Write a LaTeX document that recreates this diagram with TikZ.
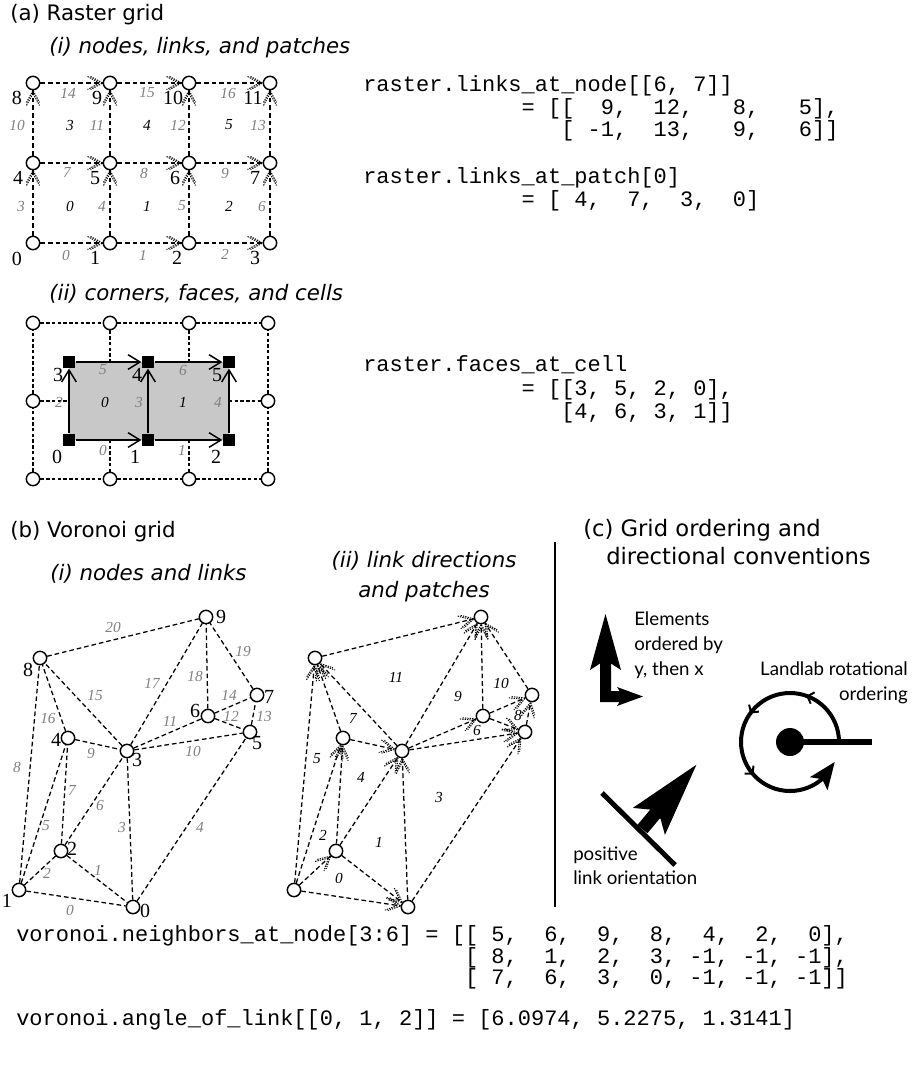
\documentclass[tikz,border=0pt]{standalone}
\usepackage{fontspec}
\setmainfont{DejaVu Sans}
\newfontfamily\seriffont{Liberation Serif}
\newfontfamily\codefont{Liberation Mono}
\newfontfamily\gillfont{Lato}
\usetikzlibrary{arrows.meta,decorations.markings,bending}
\definecolor{labgray}{RGB}{128,128,128}
\definecolor{cellgray}{RGB}{200,200,200}
\begin{document}
\begin{tikzpicture}[x=0.75pt, y=-0.75pt,
  ttl/.style={anchor=mid west, inner sep=0pt, font=\fontsize{16}{20}\selectfont},
  cttl/.style={anchor=mid west, inner sep=0pt, font=\fontsize{17}{20}\selectfont},
  ittl/.style={anchor=mid west, inner sep=0pt, font=\fontsize{16}{20}\selectfont\itshape},
  gnode/.style={circle, draw, fill=white, line width=1.1pt, minimum size=10pt, inner sep=0pt},
  nlab/.style={inner sep=0pt, font=\seriffont\fontsize{15}{15}\selectfont},
  llab/.style={inner sep=0pt, text=labgray, font=\seriffont\itshape\fontsize{11.5}{11.5}\selectfont},
  plab/.style={inner sep=0pt, font=\seriffont\itshape\fontsize{11.5}{11.5}\selectfont},
  vlink/.style={line width=0.95pt, dash pattern=on 3.5pt off 2.2pt},
  glink/.style={line width=0.8pt, dash pattern=on 2.6pt off 1.7pt},
  dhead/.style={postaction={decorate, decoration={markings, mark=at position 1 with {
      \draw[line width=0.75pt, dash pattern=on 1pt off 0.8pt] (-12,-6.5) -- (0,0) -- (-12,6.5);
      \draw[line width=0.75pt, dash pattern=on 1pt off 0.8pt] (-15,-6.5) -- (-3,0) -- (-15,6.5);}}}},
  cornersq/.style={rectangle, fill=black, minimum size=9.5pt, inner sep=0pt},
  face/.style={line width=1.1pt, -{Straight Barb[length=9pt, width=11pt]}},
  codeline/.style={anchor=mid west, inner sep=0pt, font=\codefont\fontsize{16.5}{20}\selectfont},
  gtext/.style={inner sep=0pt, font=\gillfont\fontsize{14}{18}\selectfont}
]
\fill[white] (0,0) rectangle (914,1071);
\useasboundingbox (0,0) rectangle (914,1071);

% ---------------- titles
\node[ttl] (ta) at (10,17) {(a) Raster grid};
\node[ittl] (ta1) at (49,50) {(i) nodes, links, and patches};
\node[ittl] (ta2) at (49,297) {(ii) corners, faces, and cells};
\node[ttl] (tb) at (10,534) {(b) Voronoi grid};
\node[ittl] (tb1) at (50,577) {(i) nodes and links};
\node[inner sep=0pt, align=center, font=\fontsize{16}{22.5}\selectfont\itshape] (tb2) at (424,577) {(ii) link directions\\and patches};
\node[cttl] (tc) at (583,533) {(c) Grid ordering and};
\node[cttl] (tc2) at (606,561) {directional conventions};

% ---------------- raster (i)
\foreach \n/\x/\y in {0/33/243,1/110/243,2/189/243,3/270/243,4/33/163,5/110/163,6/189/163,7/270/163,8/33/83,9/110/83,10/189/83,11/270/83}
  \node[gnode] (r\n) at (\x,\y) {};
\foreach \a/\b in {0/1,1/2,2/3,4/5,5/6,6/7,8/9,9/10,10/11,0/4,1/5,2/6,3/7,4/8,5/9,6/10,7/11}
  \draw[vlink,dhead] (r\a) -- (r\b);
\foreach \n/\x/\y in {0/17/259,1/95/258,2/177/258,3/255/258,4/18/178,5/95/178,6/175/178,7/255/178,8/17/98,9/97/98,10/173/98,11/253/98}
  \node[nlab] (rl\n) at (\x,\y) {\n};
\foreach \n/\x/\y in {0/66/255,1/143/255,2/225/254,3/21/206,4/102/206,5/182/206,6/262/206,7/67/172,8/144/173,9/225/173,10/17/125,11/97/125,12/178/125,13/258/125,14/68/93,15/147/93,16/228/93}
  \node[llab] (rk\n) at (\x,\y) {\n};
\foreach \n/\x/\y in {0/70/206,1/147/206,2/229/206,3/70/125,4/147/125,5/229/125}
  \node[plab] (rp\n) at (\x,\y) {\n};

% ---------------- raster (ii)
\fill[cellgray] (69,362) rectangle (229,440);
\foreach \n/\x/\y in {0/33/479,1/110/479,2/189/479,3/268/479,4/33/401,7/268/401,8/33/323,9/110/323,10/189/323,11/268/323}
  \node[gnode] (q\n) at (\x,\y) {};
\coordinate (e4) at (69,401);
\coordinate (e7) at (229,401);
\coordinate (t1) at (110,362);
\coordinate (t2) at (189,362);
\coordinate (b1) at (110,440);
\coordinate (b2) at (189,440);
\foreach \a/\b in {q8/q9,q9/q10,q10/q11,q0/q1,q1/q2,q2/q3,q0/q4,q4/q8,q3/q7,q7/q11,q4/e4,e7/q7,q9/t1,q10/t2,b1/q1,b2/q2}
  \draw[glink] (\a) -- (\b);
\foreach \n/\x/\y in {0/69/440,1/148/440,2/229/440,3/69/362,4/148/362,5/229/362}
  \node[cornersq] (c\n) at (\x,\y) {};
\foreach \a/\b in {c0/c1,c1/c2,c3/c4,c4/c5,c0/c3,c1/c4,c2/c5}
  \draw[face] (\a) -- (\b);
\foreach \n/\x/\y in {0/57/457,1/135/457,2/216/457,3/58/375,4/137/375,5/217/375}
  \node[nlab] (cl\n) at (\x,\y) {\n};
\foreach \n/\x/\y in {0/103/450,1/182/450,2/59/402,3/139/402,4/218/402,5/103/370,6/183/370}
  \node[llab] (fl\n) at (\x,\y) {\n};
\foreach \n/\x/\y in {0/105/402,1/183/402}
  \node[plab] (cc\n) at (\x,\y) {\n};

% ---------------- code (top)
\node[codeline] (k1) at (363,88) {raster.links\_at\_node[[6,\ 7]]};
\node[codeline] (k2) at (521.4,111) {=\ [[\ \ 9,\ \ 12,\ \ \ 8,\ \ \ 5],};
\node[codeline] (k3) at (561,133) {[\ -1,\ \ 13,\ \ \ 9,\ \ \ 6]]};
\node[codeline] (k4) at (363,180) {raster.links\_at\_patch[0]};
\node[codeline] (k5) at (521.4,203) {=\ [\ 4,\ \ 7,\ \ 3,\ \ 0]};
\node[codeline] (k6) at (363,368) {raster.faces\_at\_cell};
\node[codeline] (k7) at (521.4,392) {=\ [[3,\ 5,\ 2,\ 0],};
\node[codeline] (k8) at (561,415) {[4,\ 6,\ 3,\ 1]]};

% ---------------- voronoi (i) and (ii)
\foreach \n/\x/\y in {0/133/907,1/19/890,2/61/851,3/127/751,4/68/738,5/250/732,6/208/716,7/257/695,8/40/658,9/206/617}{
  \node[gnode] (va\n) at (\x,\y) {};
  \node[gnode] (vb\n) at (\x+275,\y) {};
}
\foreach \t/\h in {1/0,2/0,1/2,0/3,0/5,1/4,2/3,2/4,1/8,4/3,3/5,3/6,6/5,5/7,6/7,3/8,4/8,3/9,6/9,7/9,8/9}{
  \draw[vlink] (va\t) -- (va\h);
  \draw[vlink,dhead] (vb\t) -- (vb\h);
}
\foreach \n/\x/\y in {0/145/911,1/7/901,2/72/849,3/137/760,4/56/740,5/257/743,6/195/711,7/269/697,8/28/670,9/221/617}
  \node[nlab] (vl\n) at (\x,\y) {\n};
\foreach \n/\x/\y in {0/70/910,1/98/870,2/47/873,3/122/827,4/200/827,5/46/826,6/100/805,7/72/790,8/17/767,9/91/753,10/193/751,11/170/721,12/231/716,13/264/716,14/229/695,15/95/696,16/48/718,17/152/683,18/195/676,19/243/651,20/113/627}
  \node[llab] (vk\n) at (\x,\y) {\n};
\foreach \n/\x/\y in {0/339/878,1/379/842,2/323/835,3/439/797,4/361/777,5/317/759,6/477/730,7/353/718,8/518/715,9/458/696,10/501/683,11/396/677}
  \node[plab] (vp\n) at (\x,\y) {\n};

% ---------------- separator
\coordinate (sepa) at (555,542);
\coordinate (sepb) at (555,907);
\draw[line width=1.1pt] (sepa) -- (sepb);

% ---------------- panel (c)
\fill (600,702) -- (600,663.5) -- (590,670) -- (605.5,614) -- (621,670) -- (611,663.5) -- (611,691) -- (619.5,691) -- (617,687) -- (643,696.5) -- (617,706) -- (619.5,702) -- cycle;
\node[gtext, anchor=mid west] (el1) at (634,622) {Elements};
\node[gtext, anchor=mid west] (el2) at (634,647) {ordered by};
\node[gtext, anchor=mid west] (el3) at (634,672) {y, then x};
\node[gtext, anchor=mid east] (lr1) at (908,672) {Landlab rotational};
\node[gtext, anchor=mid east] (lr2) at (908,697) {ordering};
\node[gtext, anchor=mid west] (po1) at (573,857) {positive};
\node[gtext, anchor=mid west] (po2) at (573,881) {link orientation};

\node[circle, fill=black, minimum size=21pt, inner sep=0pt] (dot) at (790,742) {};
\coordinate (barend) at (872,742);
\draw[line width=4.5pt] (dot.center) -- (barend);
\draw[line width=3pt, -{Stealth[length=20pt,width=16pt,inset=4pt]},
  postaction={decorate, decoration={markings,
    mark=at position 0.21 with {\arrow[line width=1.5pt]{Straight Barb[length=4pt,width=9pt]}},
    mark=at position 0.43 with {\arrow[line width=1.5pt]{Straight Barb[length=4pt,width=9pt]}},
    mark=at position 0.66 with {\arrow[line width=1.5pt]{Straight Barb[length=4pt,width=9pt]}}}}]
  (839,742) arc[start angle=0, end angle=-336, radius=49];

\draw[line width=3.75pt] (602,793) -- (675,865);
\begin{scope}[shift={(645,826)}, rotate=50]
  \fill (-4,-6.5) -- (16,-6.5) -- (6,-21) -- (80,0) -- (6,21) -- (16,6.5) -- (-4,6.5) -- cycle;
\end{scope}

% ---------------- code (bottom)
\node[codeline] (m1) at (16,938) {voronoi.neighbors\_at\_node[3:6]\ =\ [[\ 5,\ \ 6,\ \ 9,\ \ 8,\ \ 4,\ \ 2,\ \ 0],};
\node[codeline] (m2) at (464.8,960) {[\ 8,\ \ 1,\ \ 2,\ \ 3,\ -1,\ -1,\ -1],};
\node[codeline] (m3) at (464.8,981) {[\ 7,\ \ 6,\ \ 3,\ \ 0,\ -1,\ -1,\ -1]]};
\node[codeline] (m4) at (16,1022) {voronoi.angle\_of\_link[[0,\ 1,\ 2]]\ =\ [6.0974,\ 5.2275,\ 1.3141]};
\end{tikzpicture}
\end{document}
